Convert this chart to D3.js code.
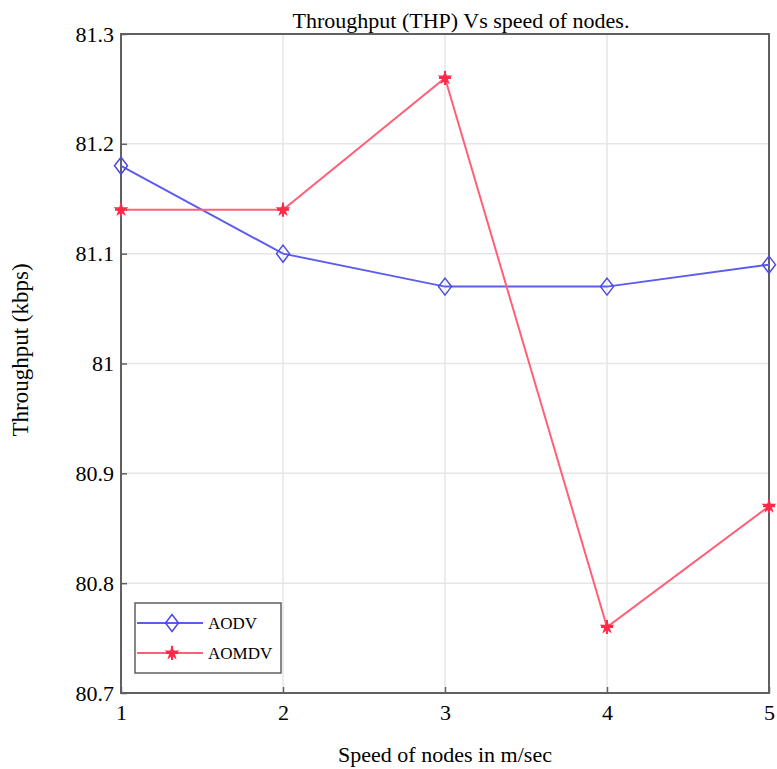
<!DOCTYPE html>
<html>
<head>
<meta charset="utf-8">
<script src="https://cdn.jsdelivr.net/npm/d3@7"></script>
<style>
  body { margin: 0; background: #fff; }
  text { font-family: "Liberation Serif", "Times New Roman", serif; fill: #000; }
</style>
</head>
<body>
<div id="chart"></div>
<script>
const speeds = [1, 2, 3, 4, 5];
const aodv = [81.18, 81.10, 81.07, 81.07, 81.09];
const aomdv = [81.14, 81.14, 81.26, 80.76, 80.87];
const yTicks = [80.7, 80.8, 80.9, 81, 81.1, 81.2, 81.3];

const width = 777;
const height = 769;
const margin = {top: 34, right: 8, bottom: 76, left: 121};

const blue = '#5c5cf0';
const blueMarker = '#4a4ae0';
const red = '#ff6078';
const redMarker = '#ff2a48';
const axisColor = '#606060';
const gridColor = '#e6e6e6';

const svg = d3.select('#chart')
  .append('svg')
  .attr('width', width)
  .attr('height', height);

const x = d3.scaleLinear()
  .domain([1, 5])
  .range([margin.left, width - margin.right]);

const y = d3.scaleLinear()
  .domain([80.7, 81.3])
  .range([height - margin.bottom, margin.top]);

// grid
svg.append('g')
  .selectAll('line')
  .data(speeds)
  .join('line')
  .attr('x1', d => x(d)).attr('x2', d => x(d))
  .attr('y1', margin.top).attr('y2', height - margin.bottom)
  .attr('stroke', gridColor).attr('stroke-width', 1.5);

svg.append('g')
  .selectAll('line')
  .data(yTicks)
  .join('line')
  .attr('x1', margin.left).attr('x2', width - margin.right)
  .attr('y1', d => y(d)).attr('y2', d => y(d))
  .attr('stroke', gridColor).attr('stroke-width', 1.5);

// axes
const xAxis = svg.append('g')
  .attr('transform', `translate(0, ${height - margin.bottom})`)
  .call(d3.axisBottom(x).tickValues(speeds).tickSize(-6).tickPadding(11).tickFormat(d3.format('d')));

const yAxis = svg.append('g')
  .attr('transform', `translate(${margin.left}, 0)`)
  .call(d3.axisLeft(y).tickValues(yTicks).tickSize(-6).tickPadding(7).tickFormat(d => +d.toFixed(1)));

[xAxis, yAxis].forEach(ax => {
  ax.select('.domain').remove();
  ax.selectAll('line').attr('stroke', axisColor).attr('stroke-width', 1.5);
  ax.selectAll('text')
    .attr('font-size', '22px')
    .attr('font-family', '"Liberation Serif", serif')
    .attr('fill', '#000');
});

// frame
svg.append('rect')
  .attr('x', margin.left)
  .attr('y', margin.top)
  .attr('width', width - margin.right - margin.left)
  .attr('height', height - margin.bottom - margin.top)
  .attr('fill', 'none')
  .attr('stroke', axisColor)
  .attr('stroke-width', 2);

const line = d3.line()
  .x((d, i) => x(speeds[i]))
  .y(d => y(d));

function diamond(g, cx, cy) {
  g.append('path')
    .attr('d', `M${cx},${cy - 8.5}L${cx + 6.5},${cy}L${cx},${cy + 8.5}L${cx - 6.5},${cy}Z`)
    .attr('fill', 'none')
    .attr('stroke', blueMarker)
    .attr('stroke-width', 1.5);
}

function star(g, cx, cy) {
  g.append('path')
    .attr('d', d3.symbol().type(d3.symbolStar).size(70)())
    .attr('transform', `translate(${cx},${cy})`)
    .attr('fill', redMarker);
  g.append('path')
    .attr('d', `M${cx - 6},${cy}H${cx + 6}M${cx},${cy - 7}V${cy + 7}`)
    .attr('stroke', redMarker)
    .attr('stroke-width', 2);
}

const plot = svg.append('g');

plot.append('path')
  .datum(aodv)
  .attr('d', line)
  .attr('fill', 'none')
  .attr('stroke', blue)
  .attr('stroke-width', 2);

plot.append('path')
  .datum(aomdv)
  .attr('d', line)
  .attr('fill', 'none')
  .attr('stroke', red)
  .attr('stroke-width', 2);

aodv.forEach((v, i) => diamond(plot, x(speeds[i]), y(v)));
aomdv.forEach((v, i) => star(plot, x(speeds[i]), y(v)));

// legend
const legend = svg.append('g');
legend.append('rect')
  .attr('x', 135).attr('y', 603)
  .attr('width', 146).attr('height', 70)
  .attr('fill', '#fff')
  .attr('stroke', axisColor)
  .attr('stroke-width', 1.5);

const legendItems = [
  {name: 'AODV', color: blue, marker: diamond, y: 623},
  {name: 'AOMDV', color: red, marker: star, y: 653}
];

legendItems.forEach(item => {
  legend.append('line')
    .attr('x1', 137).attr('x2', 203)
    .attr('y1', item.y).attr('y2', item.y)
    .attr('stroke', item.color)
    .attr('stroke-width', 2);
  item.marker(legend, 172, item.y);
  legend.append('text')
    .attr('x', 208).attr('y', item.y + 6)
    .attr('font-size', '17px')
    .text(item.name);
});

// title and labels
svg.append('text')
  .attr('x', 461)
  .attr('y', 28)
  .attr('text-anchor', 'middle')
  .attr('font-size', '22px')
  .text('Throughput (THP) Vs speed of nodes.');

svg.append('text')
  .attr('x', (margin.left + width - margin.right) / 2)
  .attr('y', 762)
  .attr('text-anchor', 'middle')
  .attr('font-size', '22px')
  .text('Speed of nodes in m/sec');

svg.append('text')
  .attr('transform', 'translate(28, 350) rotate(-90)')
  .attr('text-anchor', 'middle')
  .attr('font-size', '23px')
  .text('Throughput (kbps)');
</script>
</body>
</html>
